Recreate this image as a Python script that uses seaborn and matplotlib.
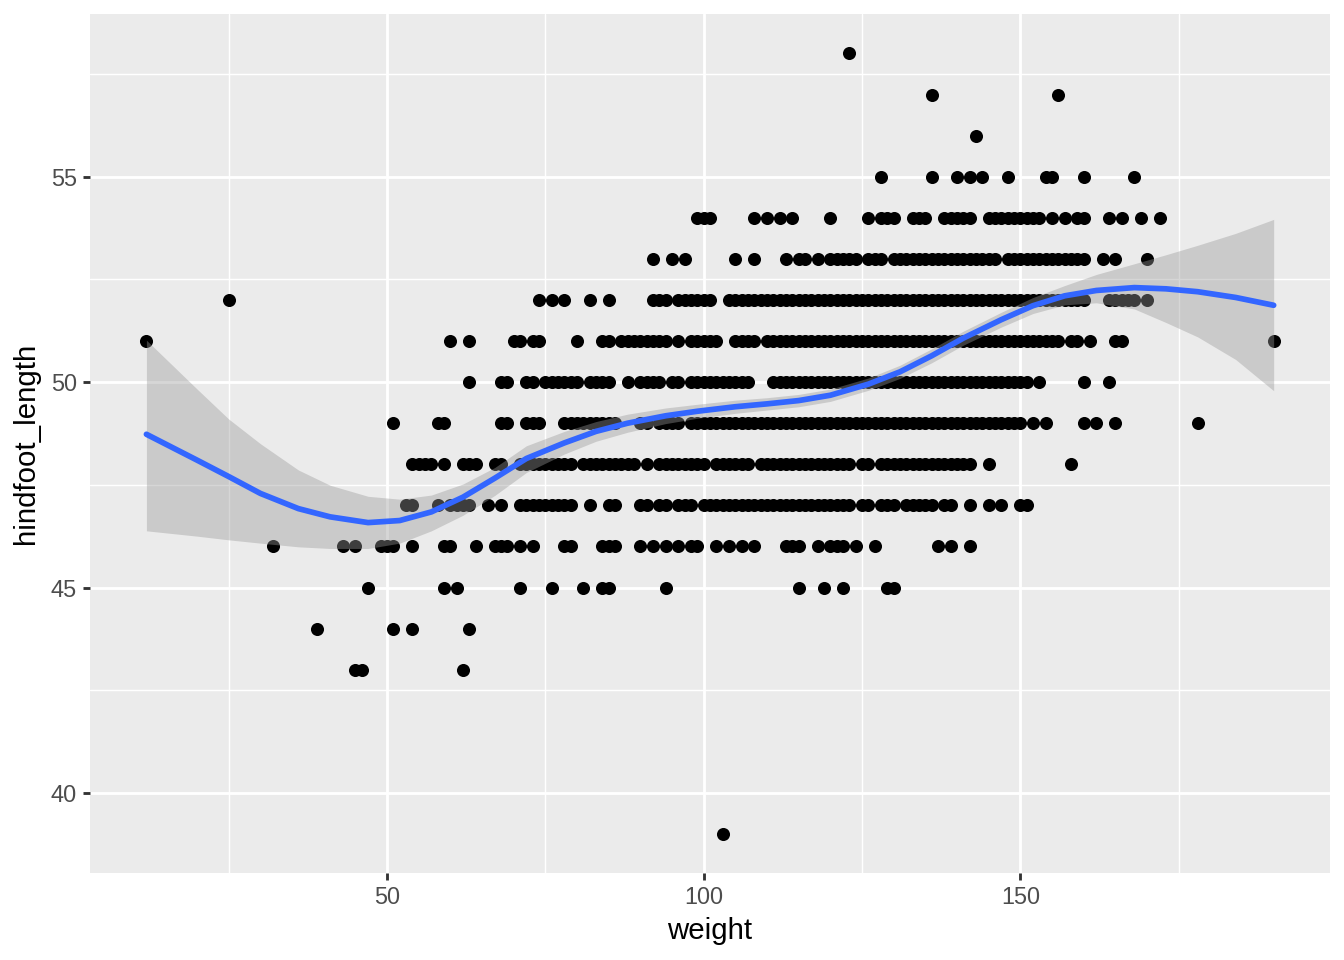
import numpy as np
import pandas as pd
import matplotlib
matplotlib.use("Agg")
import matplotlib.pyplot as plt
import seaborn as sns

# puntos: cada fila de hindfoot_length con tramos de peso (primero, ultimo)
hindfoot_levels = [58, 57, 56, 55, 54, 53, 52, 51, 50, 49, 48, 47, 46, 45, 44, 43, 39]

runs_58 = [(123, 123)]
runs_57 = [(136, 136), (156, 156)]
runs_56 = [(143, 143)]
runs_55 = [(128, 128), (136, 136), (140, 140), (142, 142), (144, 144), (148, 148),
           (154, 155), (160, 160), (168, 168)]
runs_54 = [(99, 101), (108, 108), (110, 110), (112, 112), (114, 114), (120, 120),
           (126, 126), (128, 130), (133, 135), (138, 142), (145, 153), (155, 155),
           (157, 157), (159, 160), (164, 164), (166, 166), (169, 169), (172, 172)]
runs_53 = [(92, 92), (95, 95), (97, 97), (105, 105), (108, 108), (113, 113), (115, 116),
           (118, 118), (120, 124), (126, 128), (130, 146), (148, 160), (163, 163),
           (165, 165), (170, 170)]
runs_52 = [(25, 25), (74, 74), (76, 76), (78, 78), (82, 82), (85, 85), (92, 94),
           (96, 101), (104, 160), (164, 168), (170, 170)]
runs_51 = [(12, 12), (60, 60), (63, 63), (70, 71), (73, 74), (80, 80), (84, 85),
           (87, 94), (96, 96), (98, 102), (105, 108), (110, 156), (158, 159),
           (161, 161), (165, 166), (190, 190)]
runs_50 = [(63, 63), (68, 69), (72, 73), (75, 80), (82, 85), (88, 88), (90, 93),
           (95, 96), (98, 107), (111, 151), (153, 153), (160, 160), (164, 164)]
runs_49 = [(51, 51), (58, 59), (68, 69), (72, 74), (78, 86), (90, 91), (93, 96),
           (98, 150), (152, 152), (154, 154), (160, 160), (162, 162), (165, 165),
           (178, 178)]
runs_48 = [(54, 57), (59, 59), (62, 64), (67, 68), (71, 79), (81, 89), (91, 91),
           (93, 100), (102, 107), (109, 123), (125, 126), (128, 142), (145, 145),
           (158, 158)]
runs_47 = [(53, 54), (58, 58), (60, 63), (66, 66), (68, 68), (71, 79), (82, 82),
           (85, 86), (90, 91), (93, 94), (96, 98), (100, 123), (125, 126), (128, 130),
           (132, 136), (138, 139), (142, 142), (145, 145), (147, 147), (150, 151)]
runs_46 = [(32, 32), (43, 43), (45, 45), (49, 51), (54, 54), (59, 60), (64, 64),
           (67, 69), (71, 71), (73, 73), (78, 79), (84, 86), (90, 90), (92, 92),
           (94, 94), (96, 96), (98, 99), (102, 102), (104, 104), (106, 106), (108, 108),
           (113, 115), (118, 118), (120, 122), (124, 124), (127, 127), (137, 137),
           (139, 139), (142, 142)]
runs_45 = [(47, 47), (59, 59), (61, 61), (71, 71), (76, 76), (81, 81), (84, 85),
           (94, 94), (115, 115), (119, 119), (122, 122), (129, 130)]
runs_44 = [(39, 39), (51, 51), (54, 54), (63, 63)]
runs_43 = [(45, 46), (62, 62)]
runs_39 = [(103, 103)]

# curva suavizada y banda de confianza
smooth_x = [12, 20, 25, 30, 36, 41, 47, 52, 57, 62, 67, 72, 78, 83, 88, 94, 99, 105,
            110, 115, 120, 126, 131, 136, 141, 147, 152, 157, 162, 168, 173, 178, 184, 190]
smooth_y = [48.73, 48.10, 47.70, 47.29, 46.92, 46.72, 46.58, 46.63, 46.84, 47.20, 47.66,
            48.14, 48.52, 48.80, 49.00, 49.18, 49.29, 49.40, 49.47, 49.55, 49.68, 49.95,
            50.25, 50.64, 51.07, 51.52, 51.86, 52.10, 52.23, 52.30, 52.27, 52.20, 52.06, 51.87]
smooth_hi = [51.02, 49.83, 49.10, 48.50, 47.86, 47.49, 47.22, 47.15, 47.25, 47.52, 47.92,
             48.45, 48.80, 49.04, 49.22, 49.37, 49.46, 49.56, 49.62, 49.70, 49.83, 50.10,
             50.41, 50.81, 51.24, 51.70, 52.06, 52.35, 52.62, 52.88, 53.10, 53.33, 53.62, 53.96]
smooth_lo = [46.38, 46.25, 46.16, 46.08, 45.99, 45.95, 45.95, 46.08, 46.38, 46.76, 47.24,
             47.80, 48.25, 48.56, 48.78, 48.99, 49.12, 49.24, 49.32, 49.40, 49.53, 49.80,
             50.09, 50.47, 50.90, 51.34, 51.67, 51.88, 51.93, 51.78, 51.45, 51.10, 50.55, 49.79]

all_runs = [runs_58, runs_57, runs_56, runs_55, runs_54, runs_53, runs_52, runs_51,
            runs_50, runs_49, runs_48, runs_47, runs_46, runs_45, runs_44, runs_43, runs_39]

# armamos el DataFrame a partir de los tramos
weights, hindfoots = [], []
for level, runs in zip(hindfoot_levels, all_runs):
    for first, last in runs:
        for w in range(first, last + 1):
            weights.append(w)
            hindfoots.append(level)
df = pd.DataFrame({"weight": weights, "hindfoot_length": hindfoots})

sns.set_theme(style="darkgrid")
plt.rcParams["font.family"] = ["Liberation Sans", "DejaVu Sans"]

fig = plt.figure(figsize=(7, 5), dpi=192)
ax = fig.add_axes([0.067, 0.0906, 0.9226, 0.8944])
ax.set_facecolor("#EBEBEB")

sns.scatterplot(data=df, x="weight", y="hindfoot_length", color="black",
                s=24, linewidth=0, ax=ax, zorder=3)

ax.fill_between(smooth_x, smooth_lo, smooth_hi, color="#999999", alpha=0.4,
                linewidth=0, zorder=4)
ax.plot(smooth_x, smooth_y, color="#3366FF", linewidth=2.13, zorder=5,
        solid_joinstyle="round")

ax.set_xlim(3.1, 198.9)
ax.set_ylim(38.05, 58.95)
ax.set_xticks([50, 100, 150])
ax.set_xticks([25, 75, 125, 175], minor=True)
ax.set_yticks([40, 45, 50, 55])
ax.set_yticks([42.5, 47.5, 52.5, 57.5], minor=True)
ax.grid(which="major", color="white", linewidth=1.07)
ax.grid(which="minor", color="white", linewidth=0.53)
ax.set_axisbelow(True)
for s in ax.spines.values():
    s.set_visible(False)

ax.tick_params(which="major", length=2.75, width=1.07, color="#333333",
               labelsize=8.8, labelcolor="#4D4D4D", pad=2.2,
               bottom=True, left=True)
ax.tick_params(which="minor", length=0)

ax.set_xlabel("weight", fontsize=11, color="black", labelpad=3)
ax.set_ylabel("hindfoot_length", fontsize=11, color="black", labelpad=4)

fig.savefig("out.png", dpi=192)
